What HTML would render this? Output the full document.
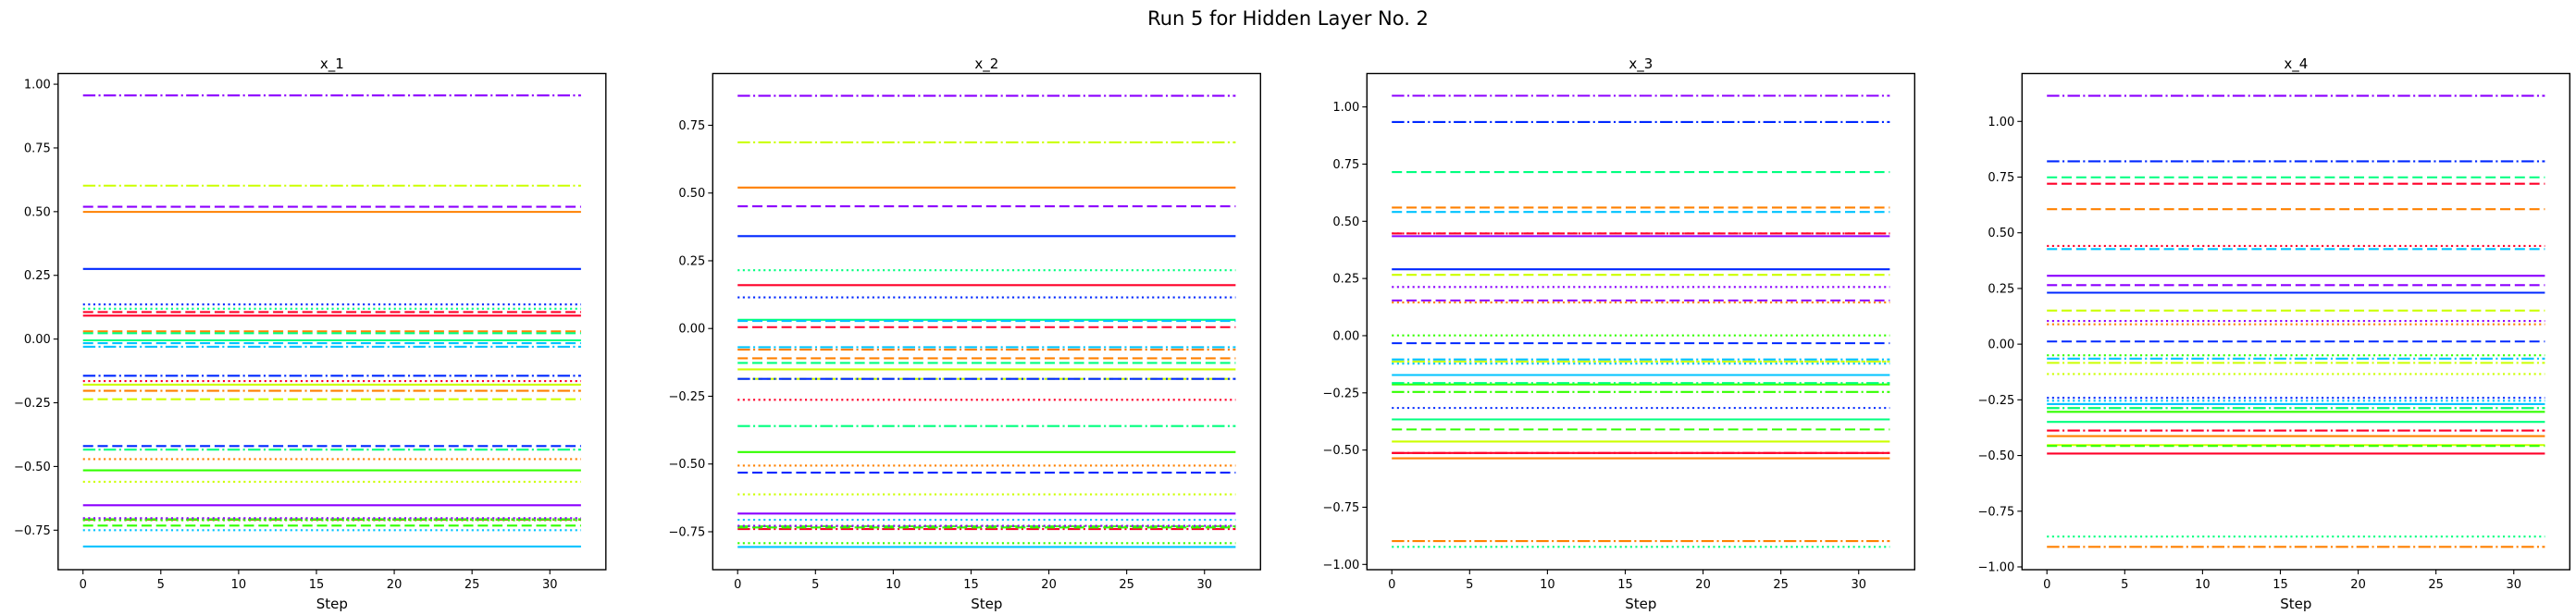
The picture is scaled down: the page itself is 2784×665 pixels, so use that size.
<!DOCTYPE html>
<html><head><meta charset="utf-8">
<style>
html,body{margin:0;padding:0;background:#fff;}
svg{display:block;font-family:"DejaVu Sans","Liberation Sans",sans-serif;}
</style></head>
<body>
<svg id="fig" width="2784" height="665" viewBox="0 0 2784 665" xmlns="http://www.w3.org/2000/svg">
<rect width="2784" height="665" fill="#fff"/>
<text x="1392" y="27" font-size="21" text-anchor="middle" fill="#000">Run 5 for Hidden Layer No. 2</text>
</svg>
<script>
const steps = Array.from({length:33},(_,i)=>i);
const xTicks = [0,5,10,15,20,25,30];
const colorNames = ["red","orange","yellow","green","spring","cyan","blue","purple"];
const colorHex = ["#ff0029","#ff8000","#ccff00","#33ff00","#00ff7f","#00c3ff","#0028ff","#8c00ff"];
const styleNames = ["solid","dashed","dashdot","dotted"];
const titles = ["x_1","x_2","x_3","x_4"];
const yLims = [[-0.905,1.042],[-0.890,0.941],[-1.023,1.146],[-1.0125,1.215]];
const yTicks1 = [-0.75,-0.5,-0.25,0,0.25,0.5,0.75,1.0];
const yTicks2 = [-0.75,-0.5,-0.25,0,0.25,0.5,0.75];
const yTicks3 = [-1.0,-0.75,-0.5,-0.25,0,0.25,0.5,0.75,1.0];
const yTicks4 = [-1.0,-0.75,-0.5,-0.25,0,0.25,0.5,0.75,1.0];
// values per color, order: solid, dashed, dashdot, dotted
const values1 = [
 [0.092,0.106,-0.709,-0.165],[0.499,0.030,-0.203,-0.471],[-0.179,-0.236,0.602,-0.560],[-0.515,-0.732,-0.707,-0.711],
 [-0.005,0.023,-0.434,0.119],[-0.814,-0.016,-0.030,-0.750],[0.275,-0.420,-0.144,0.136],[-0.652,0.519,0.956,-0.703]];
const values2 = [
 [0.160,0.005,-0.740,-0.263],[0.520,-0.110,-0.078,-0.506],[-0.151,-0.186,0.687,-0.612],[-0.456,-0.734,-0.730,-0.792],
 [0.032,-0.127,-0.360,0.215],[-0.806,0.028,-0.069,-0.706],[0.341,-0.532,-0.186,0.115],[-0.683,0.451,0.859,-0.728]];
const values3 = [
 [-0.513,0.447,-0.513,0.447],[-0.536,0.560,-0.898,0.145],[-0.463,0.266,-0.113,-0.113],[-0.213,-0.410,-0.246,0.001],
 [-0.366,0.715,-0.207,-0.923],[-0.172,0.541,-0.104,-0.122],[0.290,-0.033,0.934,-0.316],[0.435,0.154,1.049,0.213]];
const values4 = [
 [-0.491,0.720,-0.388,0.441],[-0.413,0.606,-0.910,0.089],[-0.453,0.151,-0.084,-0.134],[-0.304,-0.457,-0.287,-0.050],
 [-0.349,0.749,-0.287,-0.864],[-0.269,0.427,-0.065,-0.254],[0.231,0.012,0.821,-0.241],[0.307,0.265,1.115,0.104]];

const allValues=[values1,values2,values3,values4];
const allTicks=[yTicks1,yTicks2,yTicks3,yTicks4];
const dashes={solid:"",dashed:"11 4.8",dashdot:"13.4 3.4 2.1 3.4",dotted:"2.1 3.5"};
const NS="http://www.w3.org/2000/svg";
const svg=document.getElementById('fig');
const lefts=[62.8,770.3,1477.3,2185.3];
const W=592, TOP=79.5, BOT=616;
function mk(tag,attrs,parent){const e=document.createElementNS(NS,tag);for(const k in attrs)e.setAttribute(k,attrs[k]);parent.appendChild(e);return e;}
function fmt(v){let s=v.toFixed(2);if(v<0)s="\u2212"+Math.abs(v).toFixed(2);return s;}

for(let p=0;p<4;p++){
  const L=lefts[p], [y0,y1]=yLims[p];
  const xs=v=>L+(v+1.6)/35.2*W;
  const ys=v=>BOT-(v-y0)/(y1-y0)*(BOT-TOP);
  const g=mk('g',{},svg);
  
  
  const t=mk('text',{x:L+W/2,y:74,'font-size':15,'text-anchor':'middle',fill:'#000'},g);
  t.textContent=titles[p];
  
  
  const lg=mk('g',{},g);
  
  
  const vals=allValues[p];
  for(let c=0;c<colorNames.length;c++){
    for(let s=0;s<styleNames.length;s++){
      const v=vals[c][s];
      const pts=steps.map(st=>xs(st).toFixed(2)+','+ys(v).toFixed(2)).join(' ');
      const a={points:pts,fill:'none',stroke:colorHex[c],'stroke-width':2.1};
      if(dashes[styleNames[s]])a['stroke-dasharray']=dashes[styleNames[s]];
      const pl=mk('polyline',a,lg);
      
      
    }
  }
  const fr=mk('rect',{x:L,y:TOP,width:W,height:BOT-TOP,fill:'none',stroke:'#000','stroke-width':1.4},g);
  
  
  for(const tv of allTicks[p]){
    const y=ys(tv);
    mk('line',{x1:L-5,x2:L,y1:y,y2:y,stroke:'#000','stroke-width':1.1},g);
    const tl=mk('text',{x:L-8,y:y+4.5,'font-size':13,'text-anchor':'end',fill:'#000'},g);
    tl.textContent=fmt(tv);
    
    
  }
  for(const tv of xTicks){
    const x=xs(tv);
    mk('line',{x1:x,x2:x,y1:BOT,y2:BOT+5,stroke:'#000','stroke-width':1.1},g);
    const tl=mk('text',{x:x,y:BOT+20,'font-size':13,'text-anchor':'middle',fill:'#000'},g);
    tl.textContent=String(tv);
    
    
  }
  const xl=mk('text',{x:L+W/2,y:658,'font-size':15,'text-anchor':'middle',fill:'#000'},g);
  xl.textContent='Step';
  
  
}
</script>
</body></html>
